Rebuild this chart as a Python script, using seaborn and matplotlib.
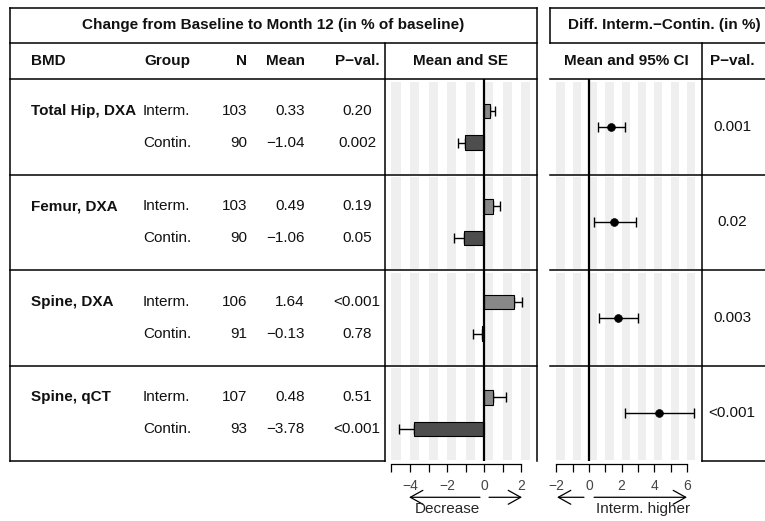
import matplotlib
matplotlib.use('Agg')
import matplotlib.pyplot as plt
import seaborn as sns
import pandas as pd

# table values
bmd = ['Total Hip, DXA', 'Femur, DXA', 'Spine, DXA', 'Spine, qCT']
groups = ['Interm.', 'Contin.']
n_interm = [103, 103, 106, 107]
n_contin = [90, 90, 91, 93]
mean_interm = [0.33, 0.49, 1.64, 0.48]
mean_contin = [-1.04, -1.06, -0.13, -3.78]
se_interm = [0.25, 0.36, 0.39, 0.71]
se_contin = [0.35, 0.58, 0.47, 0.82]
p_interm = ['0.20', '0.19', '<0.001', '0.51']
p_contin = ['0.002', '0.05', '0.78', '<0.001']

# difference interm - contin
diff_mean = [1.37, 1.55, 1.77, 4.26]
diff_lo = [0.52, 0.31, 0.61, 2.20]
diff_hi = [2.23, 2.85, 2.98, 6.40]
diff_p = ['0.001', '0.02', '0.003', '<0.001']

se_ticks = [-5, -4, -3, -2, -1, 0, 1, 2]
ci_ticks = [-2, -1, 0, 1, 2, 3, 4, 5, 6]

W, H = 765, 521
TOP = 79      # pixel row where the body starts
SEC = 95.5    # pixel height of one BMD block


def fmt(v):
    return ('%.2f' % v).replace('-', '\u2212')


def sec_y(i, off):
    return TOP + SEC * (i + off)


def main():
    sns.set_style('white')
    plt.rcParams['font.family'] = ['Liberation Sans', 'DejaVu Sans']
    fig = plt.figure(figsize=(W / 100, H / 100), dpi=100)

    # background axes in pixel units for the table
    bg = fig.add_axes([0, 0, 1, 1])
    bg.set_xlim(0, W)
    bg.set_ylim(H, 0)
    bg.axis('off')

    def hline(y, x0, x1):
        bg.plot([x0, x1], [y, y], color='black', lw=1.1, solid_capstyle='projecting')

    def vline(x, y0, y1):
        bg.plot([x, x], [y0, y1], color='black', lw=1.1, solid_capstyle='projecting')

    bounds = [sec_y(i, 0) for i in range(5)]
    # left table frame
    for y in [8, 43] + bounds[:4]:
        hline(y, 10, 537)
    hline(bounds[4], 10, 385)
    vline(10, 8, bounds[4])
    vline(385, 43, bounds[4])
    vline(537, 8, bounds[4])
    # right table frame
    for y in [8, 43] + bounds[:4]:
        hline(y, 550, W)
    hline(bounds[4], 702, W)
    vline(550, 8, 43)
    vline(702, 43, bounds[4])

    bold = dict(fontsize=11, fontweight='bold', va='center', color='#111111')
    norm = dict(fontsize=11, va='center', color='#111111')
    bg.text(273, 25, 'Change from Baseline to Month 12 (in % of baseline)', ha='center', **bold)
    bg.text(664, 25, 'Diff. Interm.\u2212Contin. (in %)', ha='center', **bold)
    hy = 61
    bg.text(31, hy, 'BMD', ha='left', **bold)
    bg.text(167, hy, 'Group', ha='center', **bold)
    bg.text(247, hy, 'N', ha='right', **bold)
    bg.text(305, hy, 'Mean', ha='right', **bold)
    bg.text(357, hy, 'P\u2212val.', ha='center', **bold)
    bg.text(461, hy, 'Mean and SE', ha='center', **bold)
    bg.text(626, hy, 'Mean and 95% CI', ha='center', **bold)
    bg.text(732, hy, 'P\u2212val.', ha='center', **bold)

    for i in range(4):
        y1 = sec_y(i, 1 / 3)
        y2 = sec_y(i, 2 / 3)
        bg.text(31, y1, bmd[i], ha='left', **bold)
        bg.text(143, y1, groups[0], ha='left', **norm)
        bg.text(143, y2, groups[1], ha='left', **norm)
        bg.text(247, y1, str(n_interm[i]), ha='right', **norm)
        bg.text(247, y2, str(n_contin[i]), ha='right', **norm)
        bg.text(305, y1, fmt(mean_interm[i]), ha='right', **norm)
        bg.text(305, y2, fmt(mean_contin[i]), ha='right', **norm)
        bg.text(357, y1, p_interm[i], ha='center', **norm)
        bg.text(357, y2, p_contin[i], ha='center', **norm)
        bg.text(732, sec_y(i, 0.5), diff_p[i], ha='center', **norm)

    def px_axes(x0, x1, y0, y1):
        return fig.add_axes([x0 / W, 1 - y1 / H, (x1 - x0) / W, (y1 - y0) / H])

    # Mean and SE panel
    rows = []
    for i in range(4):
        rows.append(dict(bmd=bmd[i], group=groups[0], mean=mean_interm[i], se=se_interm[i], ypos=i + 1 / 3))
        rows.append(dict(bmd=bmd[i], group=groups[1], mean=mean_contin[i], se=se_contin[i], ypos=i + 2 / 3))
    df = pd.DataFrame(rows)

    ax1 = px_axes(385, 537, TOP, bounds[4])
    for i in range(4):
        for k in se_ticks:
            ax1.fill_betweenx([i + 0.03, i + 0.99], k, k + 0.5, color='#efefef', lw=0, zorder=0)
    lo = [s if m < 0 else 0 for m, s in zip(df['mean'], df['se'])]
    hi = [s if m >= 0 else 0 for m, s in zip(df['mean'], df['se'])]
    ax1.errorbar(df['mean'], df['ypos'], xerr=[lo, hi], fmt='none', ecolor='black',
                 elinewidth=1, capsize=3.5, capthick=1, zorder=0.9)
    sns.barplot(data=df, x='mean', y='ypos', hue='group', orient='h', native_scale=True,
                dodge=False, width=0.46, palette={'Interm.': '#888888', 'Contin.': '#4d4d4d'},
                edgecolor='black', linewidth=0.8, legend=False, ax=ax1)
    ax1.axvline(0, color='black', lw=1.6, zorder=3)
    ax1.set_xlim(-5.35, 2.86)

    # Mean and 95% CI panel
    dd = pd.DataFrame(dict(bmd=bmd, diff=diff_mean, lo=diff_lo, hi=diff_hi,
                           ypos=[i + 0.5 for i in range(4)]))
    ax2 = px_axes(550, 702, TOP, bounds[4])
    for i in range(4):
        for k in ci_ticks:
            ax2.fill_betweenx([i + 0.03, i + 0.99], k, k + 0.5, color='#efefef', lw=0, zorder=0)
    ax2.errorbar(dd['diff'], dd['ypos'], xerr=[dd['diff'] - dd['lo'], dd['hi'] - dd['diff']],
                 fmt='none', ecolor='black', elinewidth=1, capsize=3.5, capthick=1, zorder=2)
    sns.scatterplot(data=dd, x='diff', y='ypos', color='black', s=32, edgecolor='black',
                    zorder=4, ax=ax2)
    ax2.axvline(0, color='black', lw=1.6, zorder=3)
    ax2.set_xlim(-2.39, 6.92)

    for ax, ticks in [(ax1, se_ticks), (ax2, ci_ticks)]:
        ax.set_facecolor('none')
        ax.set_ylim(4, 0)
        ax.set_yticks([])
        ax.set_xlabel('')
        ax.set_ylabel('')
        for s in ['top', 'left', 'right']:
            ax.spines[s].set_visible(False)
        ax.spines['bottom'].set_bounds(ticks[0], ticks[-1])
        ax.spines['bottom'].set_position(('outward', 2.2))
        ax.spines['bottom'].set_color('black')
        ax.spines['bottom'].set_linewidth(0.9)
        ax.set_xticks(ticks)
        ax.set_xticklabels([fmt(t)[:-3] if t % 2 == 0 else '' for t in ticks])
        ax.tick_params(axis='x', bottom=True, direction='out', length=6, width=0.9,
                       pad=5, labelsize=10, colors='black', labelcolor='#444444')

    arrow = dict(arrowstyle='->,head_length=0.9,head_width=0.5', lw=0.9, color='black',
                 shrinkA=0, shrinkB=0)
    ya = -0.095
    for ax, pairs in [(ax1, [(-0.22, -4.05), (0.27, 2.05)]), (ax2, [(-0.31, -1.96), (0.31, 6.0)])]:
        for x0, x1 in pairs:
            ax.annotate('', xy=(x1, ya), xytext=(x0, ya), xycoords=('data', 'axes fraction'),
                        textcoords=('data', 'axes fraction'), arrowprops=arrow,
                        annotation_clip=False)
    ax1.text(-2, -0.125, 'Decrease', ha='center', va='center', fontsize=11,
             transform=ax1.get_xaxis_transform())
    ax2.text(3.3, -0.125, 'Interm. higher', ha='center', va='center', fontsize=11,
             transform=ax2.get_xaxis_transform())

    fig.savefig('out.png', dpi=100)


if __name__ == '__main__':
    main()
